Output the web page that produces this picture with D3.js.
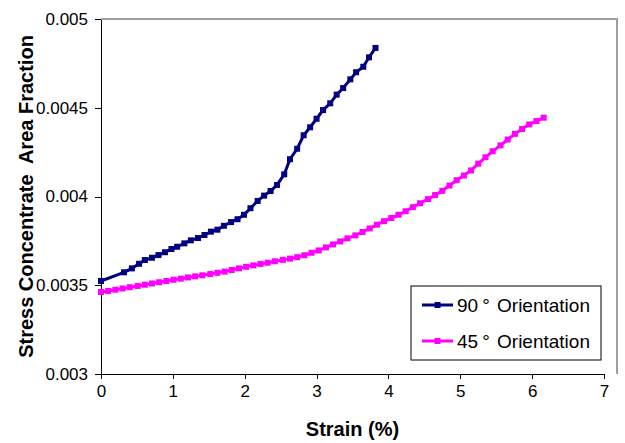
<!DOCTYPE html>
<meta charset="utf-8">
<style>
  body { margin: 0; background: #fff; }
  .axis path,
  .axis line {
    fill: none;
    stroke: #000;
    shape-rendering: crispEdges;
  }
  .axis text {
    font-family: "Liberation Sans", Arial, sans-serif;
    font-size: 17px;
    fill: #000;
  }
</style>
<script src="https://d3js.org/d3.v7.min.js"></script>

<!-- Create a div where the graph will take place -->
<div id="my_dataviz"></div>

<script>

// data
var strain90 = [0, 0.32, 0.43, 0.53, 0.61, 0.71, 0.80, 0.89, 0.98, 1.06, 1.16, 1.25, 1.35, 1.44, 1.53,
  1.62, 1.71, 1.81, 1.90, 1.99, 2.08, 2.18, 2.27, 2.36, 2.45, 2.55, 2.63, 2.73, 2.82, 2.91,
  3.00, 3.09, 3.19, 3.28, 3.37, 3.47, 3.55, 3.65, 3.73, 3.82];
var area90 = [0.003524, 0.003573, 0.003595, 0.003621, 0.003642, 0.003655, 0.00367, 0.003686, 0.003704, 0.003717,
  0.003736, 0.003753, 0.003766, 0.003783, 0.003802, 0.003813, 0.003835, 0.003856, 0.003872, 0.003897,
  0.003934, 0.003975, 0.004005, 0.004031, 0.004065, 0.004125, 0.00421, 0.004269, 0.004345, 0.00439,
  0.004438, 0.004487, 0.004525, 0.004574, 0.004611, 0.00466, 0.0047, 0.004731, 0.004784, 0.004837];

var strain45 = [0, 0.10, 0.20, 0.30, 0.40, 0.51, 0.61, 0.71, 0.81, 0.91, 1.01, 1.11, 1.21, 1.31, 1.41, 1.52,
  1.62, 1.72, 1.82, 1.92, 2.02, 2.12, 2.22, 2.32, 2.42, 2.53, 2.63, 2.73, 2.83, 2.93, 3.03,
  3.13, 3.23, 3.33, 3.43, 3.54, 3.64, 3.74, 3.84, 3.94, 4.04, 4.14, 4.24, 4.34, 4.44, 4.55,
  4.65, 4.75, 4.85, 4.95, 5.05, 5.15, 5.25, 5.35, 5.45, 5.56, 5.66, 5.76, 5.86, 5.96, 6.06, 6.16];
var area45 = [0.003462, 0.003468, 0.003475, 0.003482, 0.003489, 0.003496, 0.003503, 0.00351, 0.003517, 0.003524,
  0.003531, 0.003537, 0.003544, 0.00355, 0.003556, 0.003563, 0.00357, 0.003577, 0.003586, 0.003595,
  0.003604, 0.003612, 0.00362, 0.003627, 0.003635, 0.003643, 0.00365, 0.003658, 0.003669, 0.003683,
  0.003696, 0.003713, 0.00373, 0.003747, 0.003764, 0.003781, 0.0038, 0.00382, 0.003841, 0.003861,
  0.003879, 0.003897, 0.003917, 0.00394, 0.003962, 0.003985, 0.004008, 0.004032, 0.004062, 0.004092,
  0.004118, 0.004147, 0.004185, 0.004221, 0.004255, 0.004288, 0.004321, 0.004353, 0.00438, 0.004406,
  0.004425, 0.004444];

var xTicks = [0, 1, 2, 3, 4, 5, 6, 7];
var yTicks = [0.003, 0.0035, 0.004, 0.0045, 0.005];
var yTickLabels = ["0.003", "0.0035", "0.004", "0.0045", "0.005"];
var seriesAngles = ["90", "45"];
var seriesColors = ["#000080", "#ff00ff"];

var width = 625, height = 443;
var plot = {left: 101, right: 604, top: 19, bottom: 374, frameRight: 617};

var svg = d3.select("#my_dataviz")
  .append("svg")
    .attr("width", width)
    .attr("height", height)
    .style("display", "block");

var x = d3.scaleLinear().domain([0, 7]).range([plot.left, plot.right]);
var y = d3.scaleLinear().domain([0.003, 0.005]).range([plot.bottom, plot.top]);

// grey plot-area frame (top and right edges)
svg.append("path")
  .attr("d", "M" + plot.left + "," + plot.top + "H" + plot.frameRight + "V" + plot.bottom)
  .attr("fill", "none")
  .attr("stroke", "#a0a0a0")
  .attr("stroke-width", 2);

// axes
svg.append("g")
  .attr("class", "axis")
  .attr("transform", "translate(0," + plot.bottom + ")")
  .call(d3.axisBottom(x).tickValues(xTicks).tickFormat(d3.format("d")).tickSize(5).tickSizeOuter(0).tickPadding(6));

svg.append("g")
  .attr("class", "axis")
  .attr("transform", "translate(" + plot.left + ",0)")
  .call(d3.axisLeft(y).tickValues(yTicks).tickFormat(function(d, i) { return yTickLabels[i]; })
    .tickSize(6).tickSizeOuter(0).tickPadding(7));

// series
var series = [
  {angle: seriesAngles[0], color: seriesColors[0], xs: strain90, ys: area90, m: 6},
  {angle: seriesAngles[1], color: seriesColors[1], xs: strain45, ys: area45, m: 6}
];

var line = d3.line()
  .x(function(d) { return x(d[0]); })
  .y(function(d) { return y(d[1]); });

series.forEach(function(s) {
  var pts = s.xs.map(function(v, i) { return [v, s.ys[i]]; });
  svg.append("path")
    .datum(pts)
    .attr("fill", "none")
    .attr("stroke", s.color)
    .attr("stroke-width", 3)
    .attr("d", line);
  svg.selectAll(null)
    .data(pts)
    .enter()
    .append("rect")
      .attr("x", function(d) { return x(d[0]) - s.m / 2; })
      .attr("y", function(d) { return y(d[1]) - s.m / 2; })
      .attr("width", s.m)
      .attr("height", s.m)
      .attr("fill", s.color);
});

// legend
var legend = svg.append("g").attr("transform", "translate(411,286)");
legend.append("rect")
  .attr("x", 0).attr("y", 0)
  .attr("width", 190).attr("height", 74)
  .attr("fill", "#fff")
  .attr("stroke", "#000")
  .attr("stroke-width", 1);

series.forEach(function(s, i) {
  var ly = 19 + i * 36;
  legend.append("line")
    .attr("x1", 11).attr("x2", 42)
    .attr("y1", ly).attr("y2", ly)
    .attr("stroke", s.color)
    .attr("stroke-width", 3);
  legend.append("rect")
    .attr("x", 26.5 - 3).attr("y", ly - 3)
    .attr("width", 6).attr("height", 6)
    .attr("fill", s.color);
  var t = legend.append("text")
    .attr("x", 46)
    .attr("y", ly + 7)
    .style("font-family", "'Liberation Sans', Arial, sans-serif")
    .style("font-size", "19px")
    .style("white-space", "pre");
  t.append("tspan").text(s.angle);
  t.append("tspan").attr("dx", 4).text("\u00b0");
  t.append("tspan").attr("dx", 2).text(" Orientation");
});

// axis titles
svg.append("text")
  .attr("x", (plot.left + plot.right) / 2)
  .attr("y", 436)
  .attr("text-anchor", "middle")
  .style("font-family", "'Liberation Sans', Arial, sans-serif")
  .style("font-size", "20px")
  .style("font-weight", "bold")
  .text("Strain (%)");

svg.append("text")
  .attr("transform", "translate(33," + (plot.top + plot.bottom) / 2 + ") rotate(-90)")
  .attr("text-anchor", "middle")
  .style("font-family", "'Liberation Sans', Arial, sans-serif")
  .style("font-size", "20px")
  .style("font-weight", "bold")
  .style("white-space", "pre")
  .text("Stress Concentrate  Area Fraction");

</script>
